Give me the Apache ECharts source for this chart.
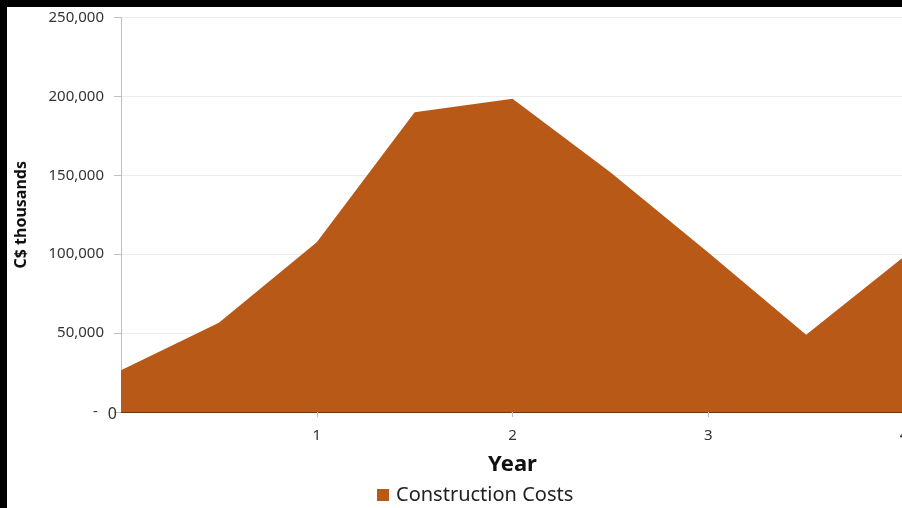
<!DOCTYPE html>
<html>
<head>
<meta charset="utf-8">
<script src="https://cdn.jsdelivr.net/npm/echarts@6/dist/echarts.min.js"></script>
<style>
  html, body { margin: 0; padding: 0; background: #000; width: 902px; height: 508px; overflow: hidden; }
  #chart { position: absolute; left: 7px; top: 7px; width: 895px; height: 501px; background: #fff; }
</style>
</head>
<body>
<div id="chart"></div>
<script>
// years on the x axis (half-year steps)
const years = [0, 0.5, 1, 1.5, 2, 2.5, 3, 3.5, 4];
// construction costs, C$ thousands
const costs = [26500, 56500, 107500, 190000, 198500, 152000, 101000, 49000, 98500];
const seriesName = 'Construction Costs';

const fontFam = '"Noto Sans", "Open Sans", sans-serif';
const orange = '#b95918';

const chart = echarts.init(document.getElementById('chart'));

chart.setOption({
  animation: false,
  textStyle: { fontFamily: fontFam },
  grid: {
    left: 114,
    right: -2,
    top: 10.5,
    bottom: 96,
    containLabel: false,
    outerBoundsMode: 'none',
  },
  legend: {
    top: 478,
    left: 370,
    padding: 0,
    itemWidth: 12,
    itemHeight: 12,
    itemGap: 8,
    icon: 'rect',
    textStyle: { fontSize: 20, color: '#222', fontFamily: fontFam, padding: [0, 0, 0, 2] },
    data: [seriesName],
  },
  xAxis: {
    type: 'value',
    min: 0,
    max: 4,
    interval: 1,
    name: 'Year',
    nameLocation: 'middle',
    nameGap: 42,
    nameTextStyle: { fontSize: 22, fontWeight: 'bold', color: '#111', fontFamily: fontFam },
    axisLine: { show: true, lineStyle: { color: '#6e3510', width: 1 } },
    axisTick: { show: true, length: 5, lineStyle: { color: '#bfbfbf' } },
    axisLabel: {
      showMinLabel: false,
      fontSize: 15,
      color: '#333',
      margin: 16,
    },
    splitLine: { show: false },
  },
  yAxis: {
    type: 'value',
    min: 0,
    max: 250000,
    interval: 50000,
    name: 'C$ thousands',
    nameLocation: 'middle',
    nameGap: 92,
    nameTextStyle: { fontSize: 16, fontWeight: 'bold', color: '#111', fontFamily: fontFam },
    axisLine: { show: true, lineStyle: { color: '#bfbfbf' } },
    axisTick: { show: true, length: 7, lineStyle: { color: '#bfbfbf' } },
    axisLabel: {
      margin: 4,
      fontSize: 15,
      color: '#333',
      formatter: (v) => {
        if (v === 0) return '{d|-}{z|0}';
        return '{n|' + v.toLocaleString('en-US') + '}';
      },
      rich: {
        n: { fontSize: 15, color: '#333', padding: [0, 13, 0, 0], fontFamily: fontFam },
        d: { fontSize: 15, color: '#333', padding: [0, 10, 0, 0], fontFamily: fontFam },
        z: { fontSize: 16, color: '#333', padding: [4, 0, 0, 0], fontFamily: fontFam },
      },
    },
    splitLine: { show: true, lineStyle: { color: '#ececec' } },
  },
  series: [
    {
      name: seriesName,
      type: 'line',
      data: years.map((y, i) => [y, costs[i]]),
      symbol: 'none',
      lineStyle: { width: 0, color: orange },
      itemStyle: { color: orange },
      areaStyle: { color: orange, opacity: 1 },
    },
  ],
});
</script>
</body>
</html>
